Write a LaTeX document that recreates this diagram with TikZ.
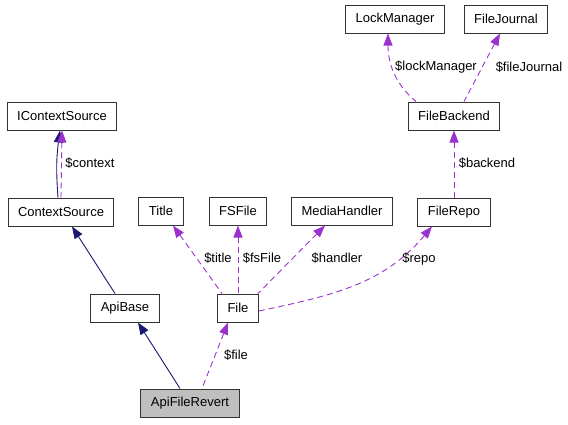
\documentclass[tikz,border=0pt]{standalone}
\usepackage{fontspec}
\setmainfont{Liberation Sans}
\usepackage{tikz}
\usetikzlibrary{arrows.meta, positioning}
\definecolor{edgeblue}{HTML}{191970}
\definecolor{edgepurple}{HTML}{9A32CD}

\begin{document}
\begin{tikzpicture}[
    x=1pt, y=-1pt,
    cls/.style = {rectangle, draw=black!80, fill=white, line width=1pt, font=\fontsize{13}{15}\selectfont, minimum height=28pt, inner xsep=10pt, inner ysep=0pt},
    selfcls/.style = {cls, fill=black!25},
    inherit/.style = {draw=edgeblue, line width=0.9pt, {Triangle[length=12pt,width=9pt]}-},
    member/.style = {draw=edgepurple, line width=0.9pt, dash pattern=on 6pt off 4pt, {Triangle[length=12pt,width=9pt]}-},
    lbl/.style = {font=\fontsize{13}{15}\selectfont, inner sep=0pt}
]
\useasboundingbox (0,0) rectangle (568,424);

% Row 1
\node (lock) [cls] at (395, 19) {LockManager};
\node (journal) [cls] at (506, 19) {FileJournal};

% Row 2
\node (ictx) [cls] at (62, 116) {IContextSource};
\node (backend) [cls] at (454, 116) {FileBackend};

% Row 3
\node (ctx) [cls] at (61, 212) {ContextSource};
\node (title) [cls] at (161, 211) {Title};
\node (fsfile) [cls] at (238, 211) {FSFile};
\node (media) [cls] at (342, 211) {MediaHandler};
\node (repo) [cls] at (454, 212) {FileRepo};

% Row 4
\node (apibase) [cls] at (125, 308) {ApiBase};
\node (file) [cls] at (238, 308) {File};

% Row 5
\node (revert) [selfcls] at (190, 403) {ApiFileRevert};

% Inheritance
\draw [inherit] ([xshift=-2]ictx.south) to[bend right=6] ([xshift=-3]ctx.north);
\draw [inherit] ([xshift=11]ctx.south) -- ([xshift=-10]apibase.north);
\draw [inherit] ([xshift=13]apibase.south) -- ([xshift=-10]revert.north);

% Members
\draw [member] ([xshift=0]ictx.south) -- ([xshift=0]ctx.north);
\draw [member] ([xshift=-10]file.south) -- ([xshift=12]revert.north);
\draw [member] ([xshift=12]title.south) -- ([xshift=-16]file.north);
\draw [member] (fsfile.south) -- (file.north);
\draw [member] ([xshift=-17]media.south) -- ([xshift=20]file.north);
\draw [member] ([xshift=-22]repo.south) to[out=-130,in=12] ([yshift=-3]file.east);
\draw [member] (backend.south) -- (repo.north);
\draw [member] ([xshift=-7]lock.south) to[out=-90,in=140] ([xshift=-38]backend.north);
\draw [member] ([xshift=-6]journal.south) -- ([xshift=10]backend.north);

% Labels
\node (lcontext) [lbl] at (90, 163) {\$context};
\node (lfile) [lbl] at (236, 355) {\$file};
\node (ltitle) [lbl] at (218, 258) {\$title};
\node (lfsfile) [lbl] at (262, 258) {\$fsFile};
\node (lhandler) [lbl] at (337, 258) {\$handler};
\node (lrepo) [lbl] at (419, 259) {\$repo};
\node (lbackend) [lbl] at (487, 163) {\$backend};
\node (llock) [lbl] at (436, 67) {\$lockManager};
\node (ljournal) [lbl] at (529, 67) {\$fileJournal};

\end{tikzpicture}
\end{document}
